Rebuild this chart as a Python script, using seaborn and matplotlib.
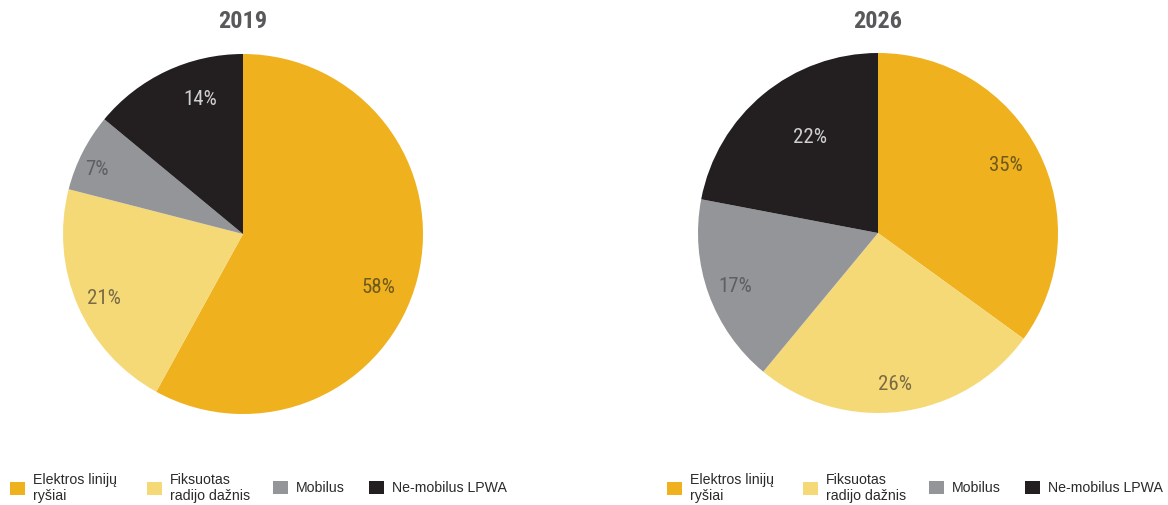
import matplotlib
matplotlib.use("Agg")
import matplotlib.pyplot as plt
from matplotlib import font_manager
from matplotlib.patches import Patch
from matplotlib.transforms import offset_copy
import seaborn as sns

# Shares of smart-meter communication technologies
categories = ["Elektros linijų\nryšiai", "Fiksuotas\nradijo dažnis", "Mobilus", "Ne-mobilus LPWA"]
years = ["2019", "2026"]
shares_2019 = [58, 21, 7, 14]
shares_2026 = [35, 26, 17, 22]

sns.set_theme(style="white")
plt.rcParams["font.family"] = ["Liberation Sans", "DejaVu Sans"]

# pick a narrow face for titles and percentage labels
installed = {f.name for f in font_manager.fontManager.ttflist}
narrow_name = next((n for n in ["Liberation Sans Narrow", "Roboto Condensed",
                                "Open Sans Condensed", "DejaVu Sans Condensed"]
                    if n in installed), None)
condensed_faces = [f for f in font_manager.fontManager.ttflist
                   if f.stretch in ("condensed", "semi-condensed", "extra-condensed")]
if narrow_name:
    narrow = dict(family=[narrow_name, "DejaVu Sans"])
elif condensed_faces:
    narrow = dict(family=[condensed_faces[0].name, "DejaVu Sans"], stretch="condensed")
else:
    narrow = dict(family=["DejaVu Sans"], stretch="condensed")

palette = sns.color_palette(["#EFB11D", "#F6D977", "#939598", "#231F20"])
label_colors = ["#6E5A1E", "#7A6B45", "#5E5F62", "#CFCFCF"]

W, H = 1168, 505
fig = plt.figure(figsize=(W / 100, H / 100), dpi=100)
fig.patch.set_facecolor("white")

centers = [(243, 234), (878, 233)]
radius = 180
legend_slots = [[10, 147, 273, 369], [667, 803, 929, 1025]]
# fine placement of percentage labels (pixels, right / down)
label_nudges = [[(-7, 17), (-4, 6), (-15, 3), (20, -1)],
                [(-4, 0), (-1, 5), (-4, 4), (26, 18)]]

for (cx, cy), year, shares, slots, nudges in zip(
        centers, years, [shares_2019, shares_2026], legend_slots, label_nudges):
    ax = fig.add_axes([(cx - radius) / W, (H - cy - radius) / H, 2 * radius / W, 2 * radius / H])
    wedges, texts, autotexts = ax.pie(
        shares,
        colors=palette,
        startangle=90,
        counterclock=False,
        autopct=lambda p: f"{p:.0f}%",
        pctdistance=0.82,
        wedgeprops=dict(linewidth=0),
        textprops=dict(fontsize=15, **narrow),
    )
    for t, c, (dx, dy) in zip(autotexts, label_colors, nudges):
        t.set_color(c)
        t.set_transform(offset_copy(ax.transData, fig=fig, x=dx, y=-dy, units="dots"))
    ax.set_xlim(-1, 1)
    ax.set_ylim(-1, 1)
    ax.set_aspect("equal")
    ax.axis("off")

    fig.text(cx / W, 1 - 21 / H, year, ha="center", va="center",
             fontweight="bold", fontsize=17.5, color="#58595B", **narrow)

    for x0, color, label in zip(slots, palette, categories):
        fig.legend([Patch(facecolor=color, edgecolor="none")], [label],
                   loc="center left", bbox_to_anchor=(x0 / W, 1 - 488 / H),
                   frameon=False, fontsize=10.2, handlelength=1.05, handleheight=1.05,
                   handletextpad=0.55, labelcolor="#2a2a2a",
                   borderaxespad=0, borderpad=0)

fig.savefig("out.png", dpi=100, facecolor="white")
